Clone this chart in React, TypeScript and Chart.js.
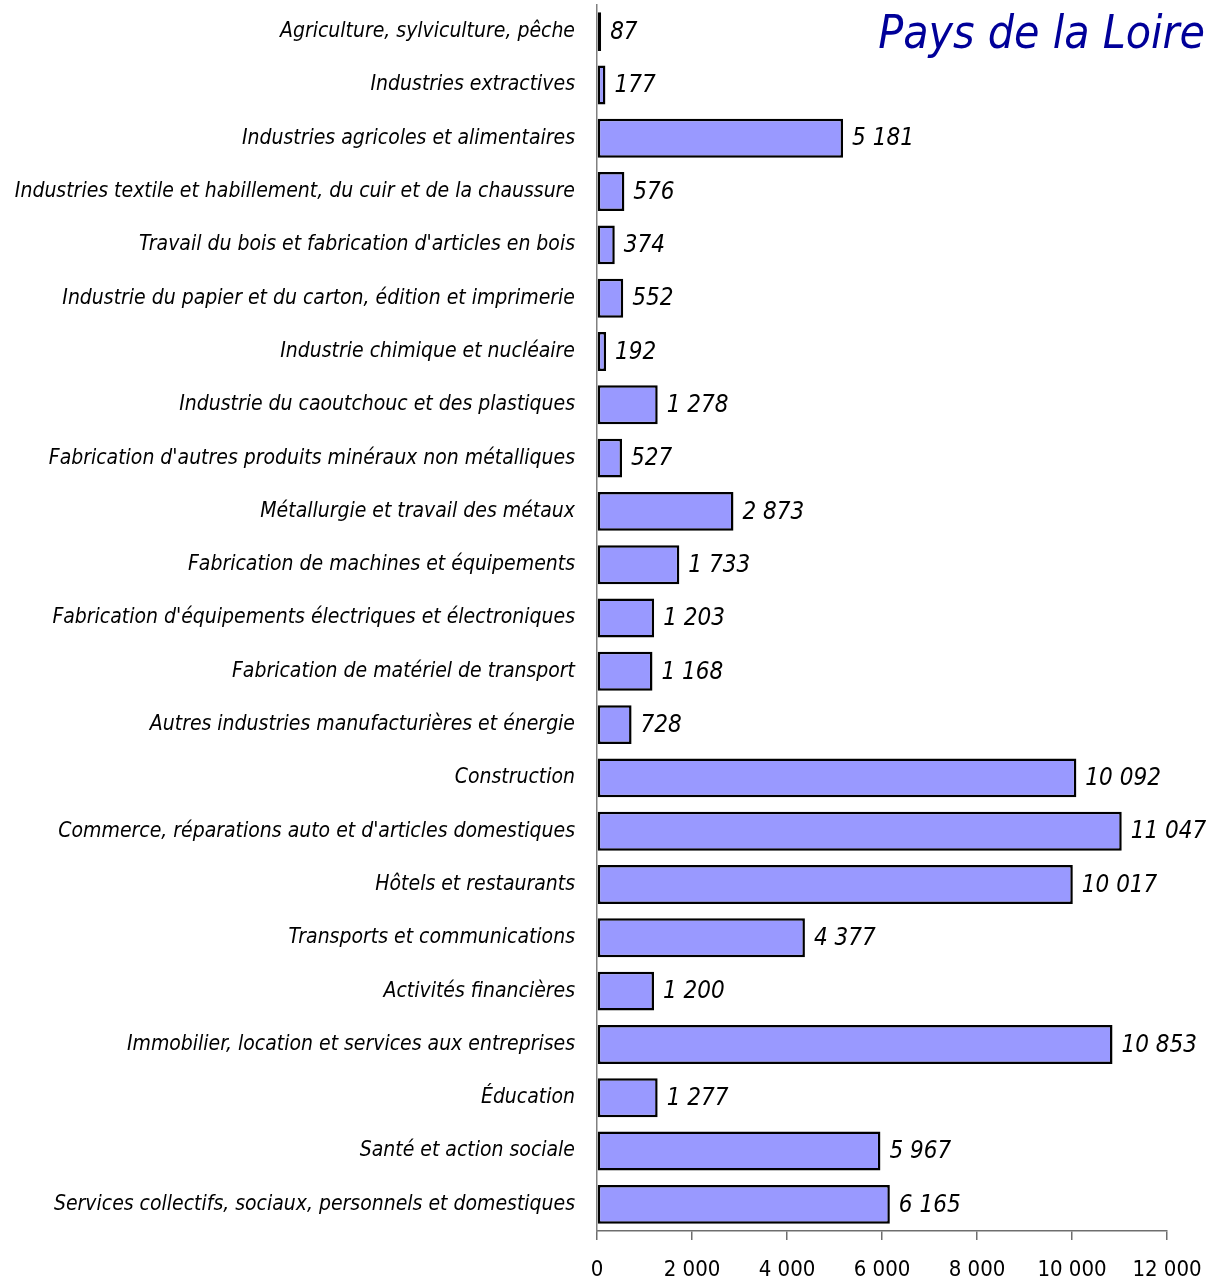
import React, { useEffect, useRef } from "react";
import { Chart, registerables } from "chart.js";

Chart.register(...registerables);

const categories: string[] = [
  "Agriculture, sylviculture, pêche",
  "Industries extractives",
  "Industries agricoles et alimentaires",
  "Industries textile et habillement, du cuir et de la chaussure",
  "Travail du bois et fabrication d'articles en bois",
  "Industrie du papier et du carton, édition et imprimerie",
  "Industrie chimique et nucléaire",
  "Industrie du caoutchouc et des plastiques",
  "Fabrication d'autres produits minéraux non métalliques",
  "Métallurgie et travail des métaux",
  "Fabrication de machines et équipements",
  "Fabrication d'équipements électriques et électroniques",
  "Fabrication de matériel de transport",
  "Autres industries manufacturières et énergie",
  "Construction",
  "Commerce, réparations auto et d'articles domestiques",
  "Hôtels et restaurants",
  "Transports et communications",
  "Activités financières",
  "Immobilier, location et services aux entreprises",
  "Éducation",
  "Santé et action sociale",
  "Services collectifs, sociaux, personnels et domestiques",
];

const values: number[] = [
  87, 177, 5181, 576, 374, 552, 192, 1278, 527, 2873, 1733, 1203, 1168, 728,
  10092, 11047, 10017, 4377, 1200, 10853, 1277, 5967, 6165,
];

const xMin = 0;
const xMax = 12000;
const xStep = 2000;
const chartTitle = "Pays de la Loire";

const FAMILY = "'Liberation Sans Narrow', 'DejaVu Sans Condensed', 'Arial Narrow', sans-serif";

function fmt(v: number): string {
  return String(Math.round(v)).replace(/\B(?=(\d{3})+(?!\d))/g, " ");
}

const valueLabelPlugin = {
  id: "valueLabels",
  afterDatasetsDraw(chart: any) {
    const ctx = chart.ctx;
    const meta = chart.getDatasetMeta(0);
    ctx.save();
    ctx.font = `italic 24px ${FAMILY}`;
    ctx.fillStyle = "#000";
    ctx.textAlign = "left";
    ctx.textBaseline = "middle";
    meta.data.forEach((bar: any, i: number) => {
      ctx.fillText(fmt(values[i]), bar.x + 9, bar.y + 1);
    });
    ctx.restore();
  },
};

const titlePlugin = {
  id: "cornerTitle",
  afterDraw(chart: any) {
    const ctx = chart.ctx;
    ctx.save();
    ctx.font = `italic 46px ${FAMILY}`;
    ctx.fillStyle = "#000099";
    ctx.textAlign = "right";
    ctx.textBaseline = "alphabetic";
    ctx.fillText(chartTitle, 1205, 48);
    ctx.restore();
  },
};

export default function App() {
  const ref = useRef<HTMLCanvasElement | null>(null);

  useEffect(() => {
    if (!ref.current) return;
    const chart = new Chart(ref.current, {
      type: "bar",
      data: {
        labels: categories,
        datasets: [
          {
            data: values,
            backgroundColor: "#9999ff",
            borderColor: "#000000",
            borderWidth: 2.5,
            borderSkipped: false,
            barPercentage: 0.73,
            categoryPercentage: 1,
          },
        ],
      },
      options: {
        indexAxis: "y",
        responsive: false,
        animation: false,
        layout: { padding: { top: 5, right: 43, bottom: 0, left: 0 } },
        plugins: {
          legend: { display: false },
          tooltip: { enabled: false },
          title: { display: false },
        },
        scales: {
          x: {
            min: xMin,
            max: xMax,
            ticks: {
              stepSize: xStep,
              color: "#000",
              padding: 17,
              maxRotation: 0,
              font: { family: FAMILY, size: 22 },
              callback: (v: any) => fmt(Number(v)),
            },
            grid: {
              display: true,
              drawOnChartArea: false,
              drawTicks: true,
              tickLength: 9,
              color: "#6e6e6e",
              lineWidth: 1.5,
            },
            border: { display: true, color: "#6e6e6e", width: 1.5 },
            afterFit: (s: any) => {
              s.height = 51;
              s.paddingLeft = 0;
              s.paddingRight = 0;
            },
          },
          y: {
            ticks: {
              color: "#000",
              padding: 22,
              autoSkip: false,
              font: { family: FAMILY, size: 21, style: "italic" },
            },
            grid: { display: false, drawTicks: false },
            border: { display: true, color: "#808080", width: 1.5 },
            afterFit: (s: any) => {
              s.width = 597;
              s.paddingTop = 0;
              s.paddingBottom = 0;
            },
          },
        },
      },
      plugins: [valueLabelPlugin, titlePlugin],
    } as any);
    return () => chart.destroy();
  }, []);

  return (
    <div style={{ position: "absolute", left: 0, top: 0, width: 1210, height: 1282 }}>
      <canvas ref={ref} width={1210} height={1282} style={{ display: "block", width: 1210, height: 1282 }} />
    </div>
  );
}
